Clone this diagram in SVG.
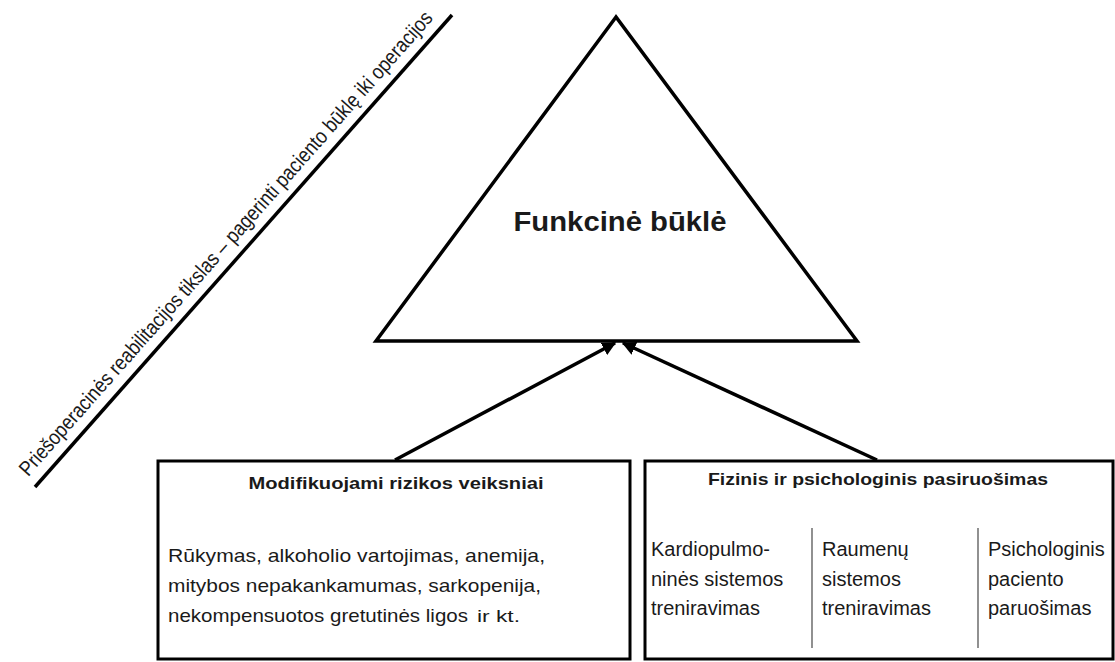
<svg xmlns="http://www.w3.org/2000/svg" width="1115" height="662" viewBox="0 0 1115 662">
<defs>
<style>
.ln{stroke:#000;stroke-width:3.5;fill:none}
.box{stroke:#000;stroke-width:3;fill:#fff}
.sep{stroke:#555;stroke-width:1.3}
.t{font-family:"Liberation Sans",Arial,sans-serif;fill:#1a1a1a}
.b{font-weight:bold}
</style>
<marker id="ah" viewBox="0 0 10 10" refX="9" refY="5" markerWidth="4" markerHeight="4" orient="auto" markerUnits="strokeWidth">
<path d="M0,0 L10,5 L0,10 z" fill="#000"/>
</marker>
</defs>
<rect width="1115" height="662" fill="#fff"/>
<g id="goal">
<line class="ln" x1="35" y1="487" x2="452" y2="15"/>
<text class="t" font-size="21" transform="translate(231,248) rotate(-48.5)" text-anchor="middle" textLength="612" lengthAdjust="spacingAndGlyphs">Priešoperacinės reabilitacijos tikslas – pagerinti paciento būklę iki operacijos</text>
</g>
<g id="triangle">
<polygon class="ln" points="616,17 376,341 857,341" stroke-linejoin="miter"/>
<text class="t b" x="620" y="231" font-size="27" text-anchor="middle" textLength="213" lengthAdjust="spacingAndGlyphs">Funkcinė būklė</text>
</g>
<g id="connectors">
<line class="ln" x1="395" y1="460" x2="615" y2="343" marker-end="url(#ah)"/>
<line class="ln" x1="877" y1="460" x2="623" y2="343" marker-end="url(#ah)"/>
</g>
<g id="risk">
<rect class="box" x="158" y="461" width="472" height="198"/>
<text class="t b" x="396" y="489" font-size="17" text-anchor="middle" textLength="295" lengthAdjust="spacingAndGlyphs">Modifikuojami rizikos veiksniai</text>
<text class="t" font-size="19">
<tspan x="168" y="562" textLength="377" lengthAdjust="spacingAndGlyphs">Rūkymas, alkoholio vartojimas, anemija,</tspan>
<tspan x="168" y="592" textLength="373" lengthAdjust="spacingAndGlyphs">mitybos nepakankamumas, sarkopenija,</tspan>
<tspan x="168" y="622" textLength="300" lengthAdjust="spacingAndGlyphs">nekompensuotos gretutinės ligos</tspan>
</text>
<text class="t" x="477" y="622" font-size="16" textLength="43" lengthAdjust="spacingAndGlyphs">ir kt.</text>
</g>
<g id="prep">
<rect class="box" x="645" y="461" width="468" height="198"/>
<text class="t b" x="878" y="485" font-size="17" text-anchor="middle" textLength="340" lengthAdjust="spacingAndGlyphs">Fizinis ir psichologinis pasiruošimas</text>
<line class="sep" x1="812" y1="528" x2="812" y2="648"/>
<line class="sep" x1="978" y1="528" x2="978" y2="648"/>
<text class="t" font-size="20">
<tspan x="651" y="556">Kardiopulmo-</tspan>
<tspan x="651" y="586">ninės sistemos</tspan>
<tspan x="651" y="615">treniravimas</tspan>
</text>
<text class="t" font-size="20">
<tspan x="822" y="556">Raumenų</tspan>
<tspan x="822" y="586">sistemos</tspan>
<tspan x="822" y="615">treniravimas</tspan>
</text>
<text class="t" font-size="20">
<tspan x="988" y="556">Psichologinis</tspan>
<tspan x="988" y="586">paciento</tspan>
<tspan x="988" y="615">paruošimas</tspan>
</text>
</g>
</svg>
